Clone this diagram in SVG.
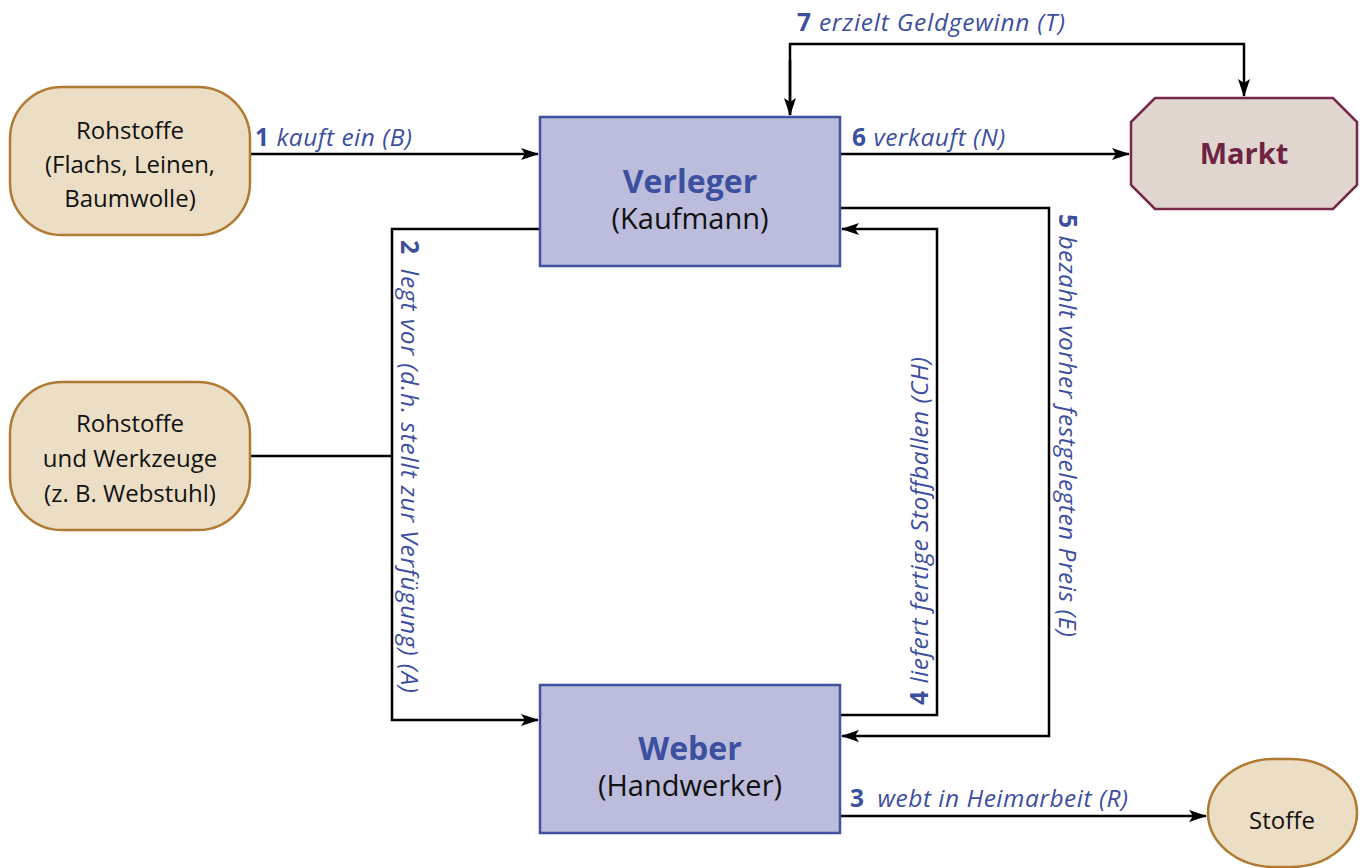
<svg xmlns="http://www.w3.org/2000/svg" width="1360" height="868" viewBox="0 0 1360 868">
<style>
.raw{fill:#ecdec5;stroke:#b07a32;stroke-width:2.5}
.box{fill:#bcbddc;stroke:#4052a0;stroke-width:2.5}
.mk{fill:#e1d5cf;stroke:#752848;stroke-width:2.5}
.t{font-family:"Open Sans","Noto Sans",sans-serif;fill:#111;text-anchor:middle}
.n{font-size:24px}
.big{font-size:29px}
.hd{font-size:32px;font-weight:bold;fill:#3d4f9f}
.lbl{font-family:"Open Sans","Noto Sans",sans-serif;font-size:24.5px;font-style:italic;fill:#3d4f9f;letter-spacing:0.5px}
.lbl .b{font-weight:bold;font-style:normal}
.c{fill:none;stroke:#000;stroke-width:2.5}
</style>
<defs>
<marker id="ah" markerWidth="20" markerHeight="14" refX="17" refY="7" orient="auto" markerUnits="userSpaceOnUse">
<path d="M0,1 L18,7 L0,13 L4,7 Z" fill="#000"/>
</marker>
</defs>
<g id="connectors">
<path class="c" d="M250,154 H538" marker-end="url(#ah)"/>
<path class="c" d="M540,229 H392 V720 H538" marker-end="url(#ah)"/>
<path class="c" d="M250,456 H392"/>
<path class="c" d="M840,816 H1206" marker-end="url(#ah)"/>
<path class="c" d="M840,715 H937 V229 H842" marker-end="url(#ah)"/>
<path class="c" d="M840,208 H1049 V736 H842" marker-end="url(#ah)"/>
<path class="c" d="M840,154 H1129" marker-end="url(#ah)"/>
<path class="c" d="M790,115 V44 H1244 V96" marker-end="url(#ah)"/>
<path class="c" d="M790,60 V115" marker-end="url(#ah)"/>
<text class="lbl" x="255" y="146"><tspan class="b">1</tspan> kauft ein (B)</text>
<text class="lbl" transform="translate(401,240) rotate(90)" style="letter-spacing:0.85px"><tspan class="b">2</tspan><tspan dx="14">legt vor (d.h. stellt zur Verfügung) (A)</tspan></text>
<text class="lbl" x="850" y="807"><tspan class="b">3</tspan><tspan dx="13">webt in Heimarbeit (R)</tspan></text>
<text class="lbl" transform="translate(928,705) rotate(-90)"><tspan class="b">4</tspan> liefert fertige Stoffballen (CH)</text>
<text class="lbl" transform="translate(1059,214) rotate(90)"><tspan class="b">5</tspan> bezahlt vorher festgelegten Preis (E)</text>
<text class="lbl" x="852" y="146"><tspan class="b">6</tspan> verkauft (N)</text>
<text class="lbl" x="797" y="31" style="letter-spacing:0.75px"><tspan class="b">7</tspan> erzielt Geldgewinn (T)</text>
</g>
<g id="rohstoffe1">
<rect class="raw" x="10" y="87" width="240" height="148" rx="52" ry="52"/>
<text class="t n" x="130" y="139">Rohstoffe</text>
<text class="t n" x="130" y="173">(Flachs, Leinen,</text>
<text class="t n" x="130" y="207">Baumwolle)</text>
</g>
<g id="rohstoffe2">
<rect class="raw" x="10" y="382" width="240" height="148" rx="52" ry="52"/>
<text class="t n" x="130" y="432">Rohstoffe</text>
<text class="t n" x="130" y="467">und Werkzeuge</text>
<text class="t n" x="130" y="502">(z. B. Webstuhl)</text>
</g>
<g id="verleger">
<rect class="box" x="540" y="117" width="300" height="149"/>
<text class="t hd" x="690" y="193">Verleger</text>
<text class="t big" x="690" y="229">(Kaufmann)</text>
</g>
<g id="weber">
<rect class="box" x="540" y="685" width="300" height="148"/>
<text class="t hd" x="690" y="760">Weber</text>
<text class="t big" x="690" y="796">(Handwerker)</text>
</g>
<g id="markt">
<path class="mk" d="M1155,98 H1333 L1357,122 V185 L1333,209 H1155 L1131,185 V122 Z"/>
<text class="t" x="1244" y="164" style="font-size:29px;font-weight:bold;fill:#6e2342">Markt</text>
</g>
<g id="stoffe">
<rect class="raw" x="1208" y="759" width="149" height="108" rx="66" ry="54"/>
<text class="t n" x="1282" y="829">Stoffe</text>
</g>
</svg>
